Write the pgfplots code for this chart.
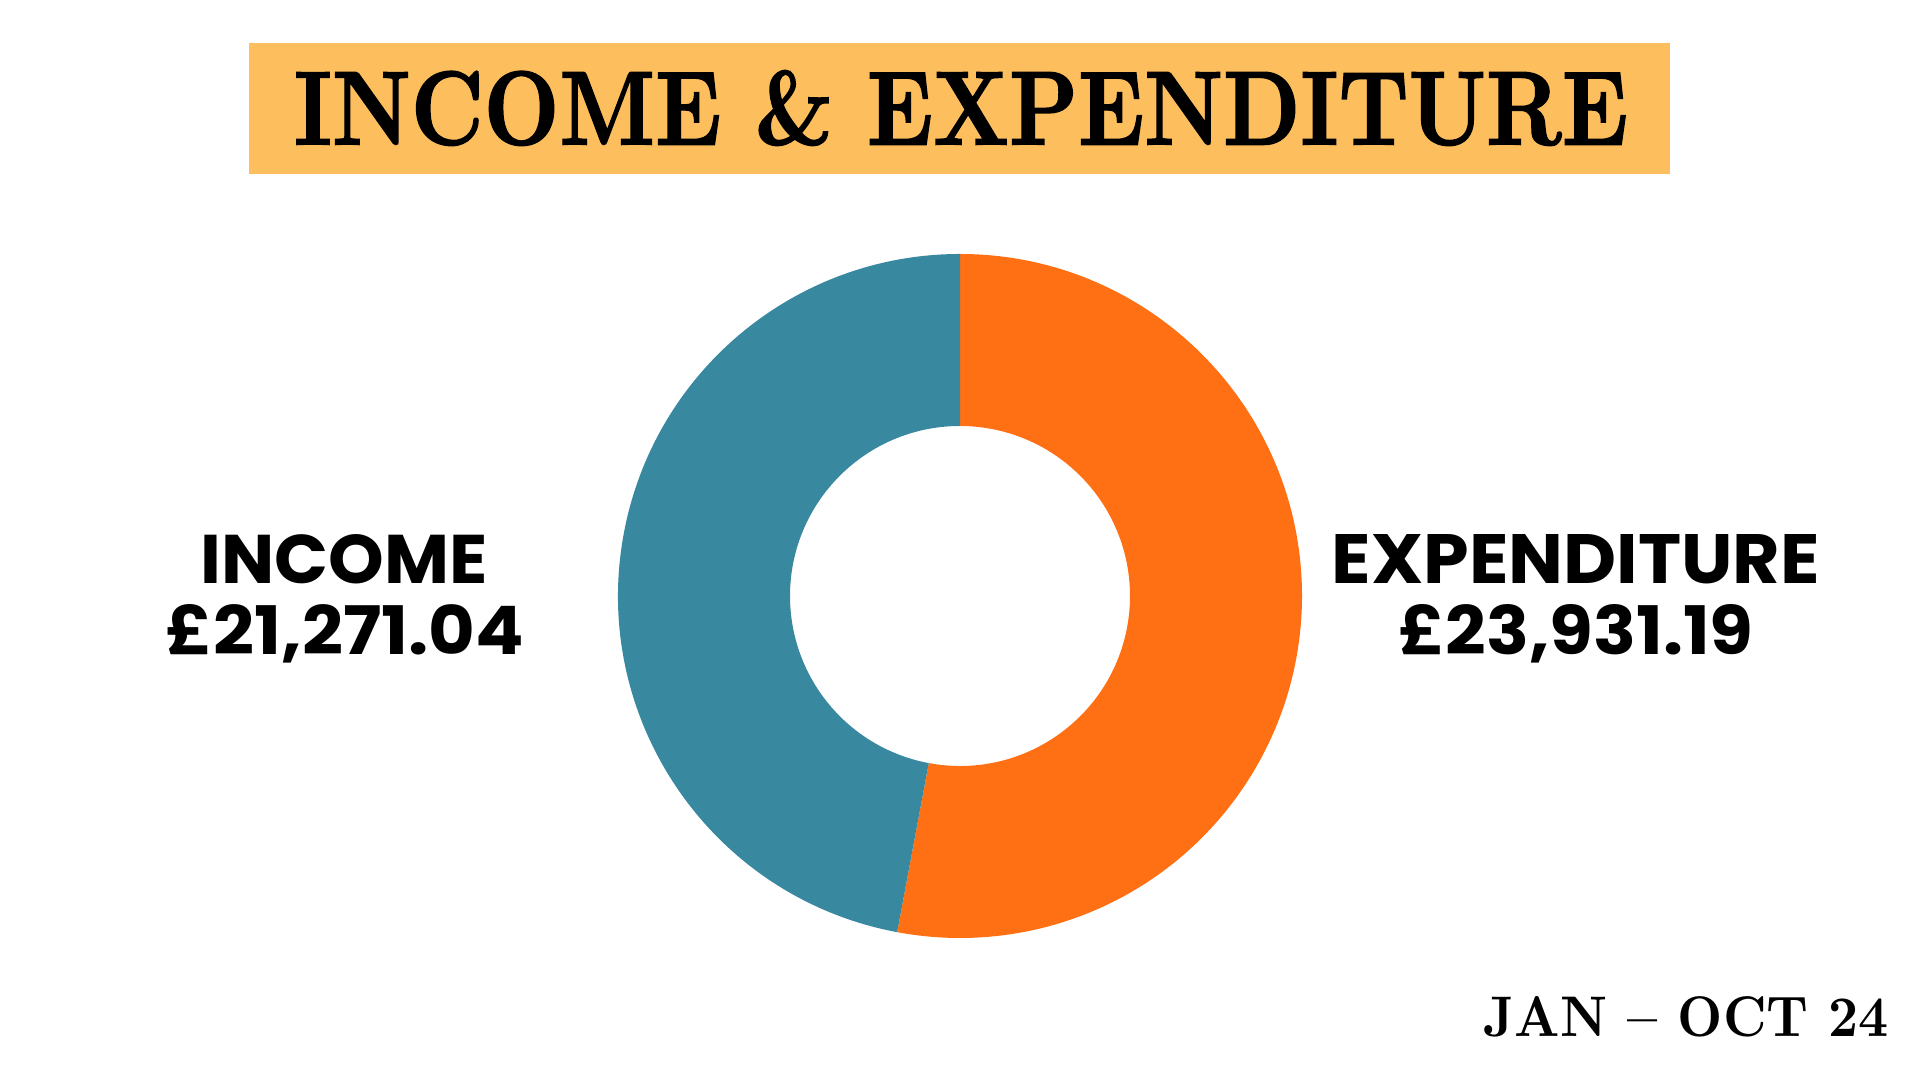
\documentclass[border=0pt]{standalone}
\usepackage{pgfplots}
\pgfplotsset{compat=1.18}
\usepackage{fontspec}
\usepackage{graphicx}
\newfontfamily\labfont{Poppins}
\newfontfamily\titlefont{Latin Modern Roman}[BoldFeatures={FakeBold=1.6}]
\definecolor{titlebg}{RGB}{253,190,94}
\definecolor{inccol}{RGB}{56,137,160}
\definecolor{expcol}{RGB}{255,112,20}
% data (GBP)
\def\income{21271.04}
\def\expend{23931.19}
\pgfkeys{/pgf/fpu=true,/pgf/fpu/output format=fixed}
\pgfmathsetmacro{\aexp}{360*\expend/(\income+\expend)}
\pgfmathsetmacro{\bnd}{90-\aexp}
\pgfmathsetmacro{\bndb}{\bnd+180}
\pgfkeys{/pgf/fpu=false}
\begin{document}
\begin{tikzpicture}
\begin{axis}[width=19.2cm,height=10.8cm,scale only axis,
  xmin=0,xmax=1920,ymin=0,ymax=1080,hide axis,clip=false]
\path (rel axis cs:0,0) rectangle (rel axis cs:1,1);
% title box
\fill[titlebg] (axis cs:249,906) rectangle (axis cs:1670,1037);
\node[inner sep=0pt] at (axis cs:961,972)
  {\resizebox{13.34cm}{0.74cm}{\titlefont\bfseries INCOME \& EXPENDITURE}};
% expenditure slice (clockwise from top)
\fill[expcol] (axis cs:960,484) ++(90:3.42cm)
  arc[start angle=90,end angle=\bnd,radius=3.42cm]
  -- ++(\bndb:1.72cm)
  arc[start angle=\bnd,end angle=90,radius=1.70cm] -- cycle;
% income slice
\fill[inccol] (axis cs:960,484) ++(\bnd:3.42cm)
  arc[start angle=\bnd,end angle=-270,radius=3.42cm]
  -- ++(90:-1.72cm)
  arc[start angle=-270,end angle=\bnd,radius=1.70cm] -- cycle;
% labels
\node[inner sep=0pt,anchor=south] at (axis cs:344,495)
  {\resizebox{2.87cm}{0.49cm}{\labfont\bfseries INCOME}};
\node[inner sep=0pt,anchor=base] at (axis cs:345,425)
  {\resizebox{3.58cm}{0.50cm}{\labfont\bfseries £21,271.04}};
\node[inner sep=0pt,anchor=south] at (axis cs:1576,495)
  {\resizebox{4.88cm}{0.49cm}{\labfont\bfseries EXPENDITURE}};
\node[inner sep=0pt,anchor=base] at (axis cs:1576,425)
  {\resizebox{3.55cm}{0.50cm}{\labfont\bfseries £23,931.19}};
% footer
\node[inner sep=0pt,anchor=base west] at (axis cs:1483,43)
  {\resizebox{4.05cm}{0.40cm}{\bfseries JAN -- OCT 24}};
\end{axis}
\end{tikzpicture}
\end{document}
